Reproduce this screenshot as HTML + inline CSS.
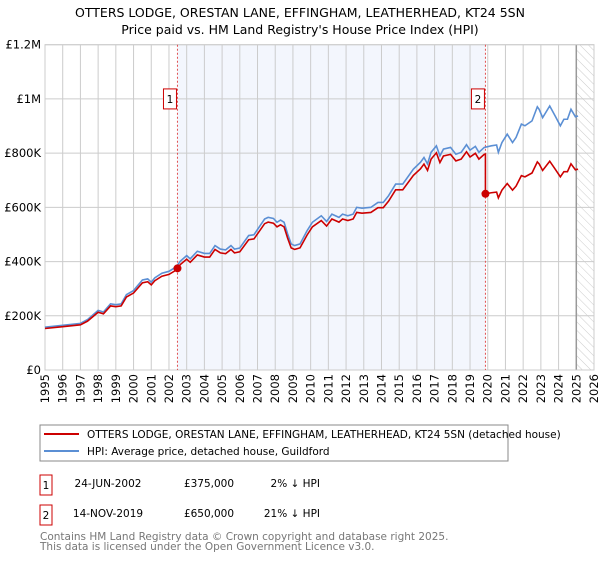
<!DOCTYPE html>
<html><head><meta charset="utf-8"><style>
body{margin:0;background:#fff;font-family:"Liberation Sans","DejaVu Sans",sans-serif;}
svg text{font-family:"DejaVu Sans","Liberation Sans",sans-serif;}
</style></head><body>
<svg width="600" height="560" viewBox="0 0 600 560">
<defs><pattern id="hatch" width="6" height="6" patternUnits="userSpaceOnUse" patternTransform="rotate(-45)"><line x1="0" y1="0" x2="0" y2="6" stroke="#ccc" stroke-width="1"/></pattern></defs>
<text x="300" y="17" text-anchor="middle" font-size="12.5">OTTERS LODGE, ORESTAN LANE, EFFINGHAM, LEATHERHEAD, KT24 5SN</text>
<text x="300" y="34" text-anchor="middle" font-size="12.5">Price paid vs. HM Land Registry's House Price Index (HPI)</text>
<g id="plot"></g>
<rect x="40" y="425" width="468" height="36" fill="#fff" stroke="#888"/>
<line x1="44" y1="434" x2="79" y2="434" stroke="#cc0000" stroke-width="2"/>
<text x="87" y="438" font-size="10.5">OTTERS LODGE, ORESTAN LANE, EFFINGHAM, LEATHERHEAD, KT24 5SN (detached house)</text>
<line x1="44" y1="451" x2="79" y2="451" stroke="#5b8fd4" stroke-width="2"/>
<text x="87" y="455" font-size="10.5">HPI: Average price, detached house, Guildford</text>
<g font-size="10.5">
<rect x="40" y="475" width="12" height="20" fill="#fff" stroke="#cc0000"/>
<text x="46" y="489" text-anchor="middle">1</text>
<text x="108" y="487" text-anchor="middle">24-JUN-2002</text>
<text x="209" y="487" text-anchor="middle">£375,000</text>
<text x="320" y="487" text-anchor="end">2% ↓ HPI</text>
<rect x="40" y="505" width="12" height="20" fill="#fff" stroke="#cc0000"/>
<text x="46" y="519" text-anchor="middle">2</text>
<text x="108" y="517" text-anchor="middle">14-NOV-2019</text>
<text x="209" y="517" text-anchor="middle">£650,000</text>
<text x="320" y="517" text-anchor="end">21% ↓ HPI</text>
</g>
<text x="40" y="540" font-size="10.5" fill="#777">Contains HM Land Registry data © Crown copyright and database right 2025.</text>
<text x="40" y="550" font-size="10.5" fill="#777">This data is licensed under the Open Government Licence v3.0.</text>
</svg>
<script>
const hpiYears=[1995,1996,1997,1997.4,1998,1998.3,1998.7,1999,1999.3,1999.6,2000,2000.5,2000.8,2001,2001.2,2001.6,2002,2002.4,2002.65,2003,2003.2,2003.6,2004,2004.3,2004.6,2004.9,2005.2,2005.5,2005.7,2006,2006.5,2006.8,2007.4,2007.6,2007.9,2008.1,2008.3,2008.5,2008.7,2008.9,2009.1,2009.4,2009.8,2010.1,2010.6,2010.9,2011.2,2011.6,2011.8,2012.1,2012.4,2012.6,2012.9,2013.4,2013.8,2014.1,2014.4,2014.8,2015.2,2015.8,2016.2,2016.4,2016.6,2016.8,2017.1,2017.3,2017.5,2017.9,2018.2,2018.5,2018.8,2019.0,2019.3,2019.5,2019.8,2020.2,2020.5,2020.6,2020.8,2021.1,2021.4,2021.6,2021.9,2022.1,2022.5,2022.8,2022.9,2023.1,2023.5,2023.8,2024.1,2024.3,2024.5,2024.7,2024.95,2025.1];
const hpiValues=[158,165,172,186,220,214,244,241,244,278,293,332,336,324,340,357,364,380,402,422,410,438,430,430,459,446,443,459,446,450,496,499,557,563,559,545,553,545,502,465,459,465,514,545,569,548,575,563,575,569,575,600,597,600,618,618,643,686,686,741,766,784,760,803,827,790,815,821,796,803,831,811,825,803,821,827,830,803,839,870,839,858,907,901,919,971,962,931,974,938,901,925,925,962,934,937];
const saleDates=[2002.48,2019.87];
const salePrices=[375,650];
const saleLabels=["1","2"];
const yTicks=[0,200,400,600,800,1000,1200];
const yTickLabels=["£0","£200K","£400K","£600K","£800K","£1M","£1.2M"];
const xTicks=[1995,1996,1997,1998,1999,2000,2001,2002,2003,2004,2005,2006,2007,2008,2009,2010,2011,2012,2013,2014,2015,2016,2017,2018,2019,2020,2021,2022,2023,2024,2025,2026];
const X0=45,X1=594,Y0=370,Y1=44.7;
const xs=y=>X0+(y-1995)/(2026-1995)*(X1-X0);
const ys=v=>Y0-v/1200*(Y0-Y1);
const NS="http://www.w3.org/2000/svg";
const g=document.getElementById('plot');
function mk(t,a,p){const e=document.createElementNS(NS,t);for(const k in a)e.setAttribute(k,a[k]);(p||g).appendChild(e);return e;}
function hpiAt(t){for(let i=1;i<hpiYears.length;i++){if(t<=hpiYears[i]){const f=(t-hpiYears[i-1])/(hpiYears[i]-hpiYears[i-1]);return hpiValues[i-1]+f*(hpiValues[i]-hpiValues[i-1]);}}return hpiValues[hpiValues.length-1];}
let e;
e=mk('rect',{x:xs(saleDates[0]),y:Y1,width:xs(saleDates[1])-xs(saleDates[0]),height:Y0-Y1,fill:'#f3f6fd'});


e=mk('rect',{x:xs(2025),y:Y1,width:X1-xs(2025),height:Y0-Y1,fill:'url(#hatch)'});


yTicks.forEach((v,i)=>{
 e=mk('line',{x1:X0,x2:X1,y1:ys(v),y2:ys(v),stroke:'#ccc'});
 
 
 e=mk('text',{x:X0-4,y:ys(v)+4,'text-anchor':'end','font-size':'11.5'});e.textContent=yTickLabels[i];
 
 
});
xTicks.forEach(t=>{
 e=mk('line',{x1:xs(t),x2:xs(t),y1:Y1,y2:Y0,stroke:'#ccc'});
 
 
 e=mk('text',{x:0,y:0,'text-anchor':'end','font-size':'11.5',transform:`translate(${xs(t)+4},${Y0+4}) rotate(-90)`});e.textContent=t;
 
 
});
e=mk('line',{x1:xs(2025),x2:xs(2025),y1:Y1,y2:Y0,stroke:'#999','stroke-width':1.5});


e=mk('rect',{x:X0,y:Y1,width:X1-X0,height:Y0-Y1,fill:'none',stroke:'#ccc'});


saleDates.forEach((d,i)=>{
 e=mk('line',{x1:xs(d),x2:xs(d),y1:Y1,y2:Y0,stroke:'#e05050','stroke-dasharray':'2,2'});
 
 
});
e=mk('polyline',{points:hpiYears.map((t,i)=>xs(t)+','+ys(hpiValues[i])).join(' '),fill:'none',stroke:'#5b8fd4','stroke-width':1.6});


const f1=salePrices[0]/hpiAt(saleDates[0]),f2=salePrices[1]/hpiAt(saleDates[1]);
const pts=[];
hpiYears.forEach((t,i)=>{ if(t<saleDates[1]) pts.push([t,hpiValues[i]*f1]); });
pts.push([saleDates[1],hpiAt(saleDates[1])*f1]);
pts.push([saleDates[1],salePrices[1]]);
hpiYears.forEach((t,i)=>{ if(t>saleDates[1]) pts.push([t,hpiValues[i]*f2]); });
e=mk('polyline',{points:pts.map(p=>xs(p[0])+','+ys(p[1])).join(' '),fill:'none',stroke:'#cc0000','stroke-width':1.6});


saleDates.forEach((d,i)=>{
 e=mk('circle',{cx:xs(d),cy:ys(salePrices[i]),r:4,fill:'#cc0000'});
 
 
 e=mk('rect',{x:xs(d)-14,y:ys(1000)-10,width:13,height:20,fill:'#fff',stroke:'#cc0000'});
 
 
 e=mk('text',{x:xs(d)-7.5,y:ys(1000)+4,'text-anchor':'middle','font-size':'10.5'});e.textContent=saleLabels[i];
 
 
});
</script>
</body></html>
